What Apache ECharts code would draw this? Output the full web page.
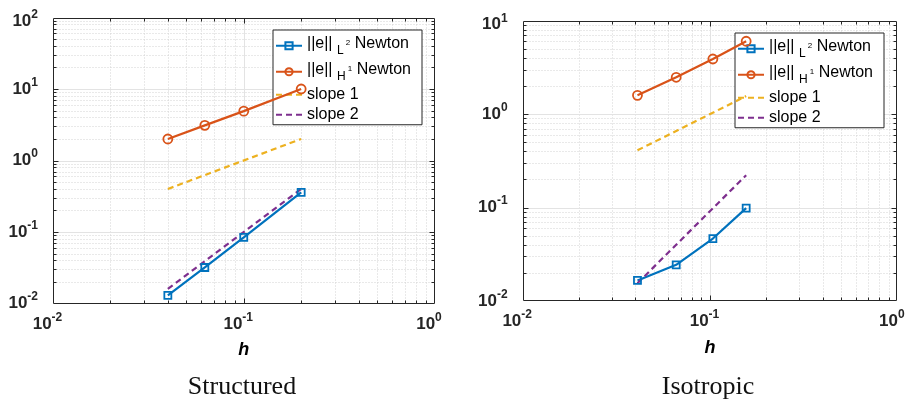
<!DOCTYPE html>
<html>
<head>
<meta charset="utf-8">
<script src="https://cdn.jsdelivr.net/npm/echarts@6/dist/echarts.min.js"></script>
<style>
  html, body { margin: 0; padding: 0; background: #fff; }
  #chart { width: 909px; height: 403px; }
</style>
</head>
<body>
<div id="chart"></div>
<script>
// Structured meshes: mesh size h and error norms
const hStructured = [0.04, 0.0625, 0.1, 0.2];
const l2Structured = [0.0130, 0.0319, 0.084, 0.359];
const h1Structured = [2.0, 3.1, 4.9, 10.0];
const slopeHStructured = [0.04, 0.2];
const slope1Structured = [0.4, 2.0];
const slope2Structured = [0.016, 0.4];

// Isotropic meshes
const hIsotropic = [0.041, 0.066, 0.1036, 0.156];
const l2Isotropic = [0.0166, 0.0244, 0.0466, 0.0986];
const h1Isotropic = [1.59, 2.48, 3.89, 6.03];
const slopeHIsotropic = [0.041, 0.156];
const slope1Isotropic = [0.41, 1.56];
const slope2Isotropic = [0.0155, 0.222];

// Decade tick values
const xTicks = [0.01, 0.1, 1];
const yTicksStructured = [0.01, 0.1, 1, 10, 100];
const yTicksIsotropic = [0.01, 0.1, 1, 10];

const panelTitles = ['Structured', 'Isotropic'];
const xName = 'h';
const seriesNames = ['L2', 'H1', 'slope 1', 'slope 2'];

const FONT = '"Liberation Sans", Arial, Helvetica, sans-serif';
const AXIS_COLOR = '#262626';
const COLORS = { l2: '#0072BD', h1: '#D95319', s1: '#EDB120', s2: '#7E2F8E' };
const LINE_W = 2.2;

const panels = [
  {
    grid: { left: 53, top: 17.5, width: 381.5, height: 286 },
    legendPos: { left: 273, top: 30 }, titleX: 242,
    yTicks: yTicksStructured,
    h: hStructured, l2: l2Structured, h1: h1Structured,
    sh: slopeHStructured, s1: slope1Structured, s2: slope2Structured,
    title: panelTitles[0]
  },
  {
    grid: { left: 522.7, top: 20.7, width: 374.6, height: 280.3 },
    legendPos: { left: 735, top: 33 }, titleX: 708,
    yTicks: yTicksIsotropic,
    h: hIsotropic, l2: l2Isotropic, h1: h1Isotropic,
    sh: slopeHIsotropic, s1: slope1Isotropic, s2: slope2Isotropic,
    title: panelTitles[1]
  }
];

function pairs(xs, ys) { return xs.map((x, i) => [x, ys[i]]); }

function isDecadeTick(ticks, v) {
  return ticks.some(t => Math.abs(Math.log10(t) - Math.log10(v)) < 1e-6);
}

// "10" with a raised exponent; the top label of a y axis sits a little lower
function powerLabel(ticks, lowerTop) {
  const top = ticks[ticks.length - 1];
  return function (v) {
    if (!isDecadeTick(ticks, v)) return '';
    const e = Math.round(Math.log10(v));
    if (lowerTop && Math.abs(Math.log10(v) - Math.log10(top)) < 1e-6) {
      return '{B|10}{E|' + e + '}';
    }
    return '{b|10}{e|' + e + '}';
  };
}

const baseLabel = { fontSize: 17, fontWeight: 'bold', fontFamily: FONT, color: AXIS_COLOR };
const xRich = {
  b: Object.assign({}, baseLabel),
  e: Object.assign({}, baseLabel, { fontSize: 12, padding: [0, 11, 13, 0] })
};
const yRich = {
  b: Object.assign({}, baseLabel),
  e: Object.assign({}, baseLabel, { fontSize: 12, padding: [0, 0, 13, 0] }),
  B: Object.assign({}, baseLabel, { padding: [8, 0, 0, 0] }),
  E: Object.assign({}, baseLabel, { fontSize: 12, padding: [8, 0, 13, 0] })
};

// Box, decade grid, dotted minor grid and inward ticks, placed through the axes
function frameSeries(idx, yTicks) {
  return {
    type: 'custom', xAxisIndex: idx, yAxisIndex: idx, z: 0, silent: true, clip: false,
    data: [[xTicks[0], yTicks[0]]],
    renderItem: function (params, api) {
      const lo = api.coord([xTicks[0], yTicks[0]]);
      const hi = api.coord([xTicks[xTicks.length - 1], yTicks[yTicks.length - 1]]);
      const L = Math.round(lo[0]) + 0.5, R = Math.round(hi[0]) - 0.5;
      const T = Math.round(hi[1]) + 0.5, B = Math.round(lo[1]) - 0.5;
      const minorGrid = [], majorGrid = [], ticks = [];
      const minorStyle = { stroke: '#d2d2d2', lineWidth: 1, lineDash: [1, 2] };
      const majorStyle = { stroke: '#e3e3e3', lineWidth: 1 };
      const tickStyle = { stroke: AXIS_COLOR, lineWidth: 1 };
      const seg = (x1, y1, x2, y2, style) => ({ type: 'line', shape: { x1, y1, x2, y2 }, style });

      function each(ticksArr, fn) {
        for (let i = 0; i < ticksArr.length; i++) {
          if (i > 0 && i < ticksArr.length - 1) fn(ticksArr[i], true);
          if (i < ticksArr.length - 1) {
            for (let k = 2; k <= 9; k++) fn(ticksArr[i] * k, false);
          }
        }
      }
      each(xTicks, function (v, major) {
        const px = Math.round(api.coord([v, yTicks[0]])[0]) + 0.5;
        (major ? majorGrid : minorGrid).push(seg(px, T, px, B, major ? majorStyle : minorStyle));
        const len = major ? 5 : 3;
        ticks.push(seg(px, B, px, B - len, tickStyle), seg(px, T, px, T + len, tickStyle));
      });
      each(yTicks, function (v, major) {
        const py = Math.round(api.coord([xTicks[0], v])[1]) + 0.5;
        (major ? majorGrid : minorGrid).push(seg(L, py, R, py, major ? majorStyle : minorStyle));
        const len = major ? 5 : 3;
        ticks.push(seg(L, py, L + len, py, tickStyle), seg(R, py, R - len, py, tickStyle));
      });
      const box = { type: 'rect', shape: { x: L, y: T, width: R - L, height: B - T },
        style: { fill: 'none', stroke: AXIS_COLOR, lineWidth: 1 } };
      return { type: 'group', children: minorGrid.concat(majorGrid, ticks, [box]) };
    }
  };
}

function curveSeries(idx, p) {
  const common = { type: 'line', xAxisIndex: idx, yAxisIndex: idx, z: 5, silent: true,
    emphasis: { disabled: true } };
  return [
    Object.assign({}, common, {
      name: seriesNames[0], data: pairs(p.h, p.l2), symbol: 'rect', symbolSize: 7,
      lineStyle: { color: COLORS.l2, width: LINE_W },
      itemStyle: { color: 'rgba(255,255,255,0)', borderColor: COLORS.l2, borderWidth: 1.8 }
    }),
    Object.assign({}, common, {
      name: seriesNames[1], data: pairs(p.h, p.h1), symbol: 'circle', symbolSize: 9,
      lineStyle: { color: COLORS.h1, width: LINE_W },
      itemStyle: { color: 'rgba(255,255,255,0)', borderColor: COLORS.h1, borderWidth: 1.8 }
    }),
    Object.assign({}, common, {
      name: seriesNames[2], data: pairs(p.sh, p.s1), symbol: 'none',
      lineStyle: { color: COLORS.s1, width: LINE_W, type: [6, 4] }, itemStyle: { color: COLORS.s1 }
    }),
    Object.assign({}, common, {
      name: seriesNames[3], data: pairs(p.sh, p.s2), symbol: 'none',
      lineStyle: { color: COLORS.s2, width: LINE_W, type: [6, 4] }, itemStyle: { color: COLORS.s2 }
    })
  ];
}

// Legend entries: ||e|| with subscripted norm space and superscripted order
const legendRich = (function () {
  const t = { fontFamily: FONT, color: '#000' };
  const row = (lh) => ({
    n: Object.assign({}, t, { fontSize: 16, lineHeight: lh, padding: [0, 0, 4, 0] }),
    s: Object.assign({}, t, { fontSize: 12, lineHeight: lh, padding: [10, 0, 0, 0] }),
    p: Object.assign({}, t, { fontSize: 8, lineHeight: lh, padding: [0, 0, 5, 0] })
  });
  const r1 = row(18.5), r2 = row(28);
  return {
    a: r1.n, b: r1.s, c: r1.p,
    A: r2.n, B: r2.s, C: r2.p,
    q: Object.assign({}, t, { fontSize: 16, lineHeight: 15.3 })
  };
})();

function legendText(name) {
  if (name === seriesNames[0]) return '{a|||e|| }{b|L}{c| 2}{a| Newton}';
  if (name === seriesNames[1]) return '{A|||e|| }{B|H}{C| 1}{A| Newton}';
  return '{q|' + name + '}';
}

// dashed reference lines show only their line in the legend
const legendData = seriesNames.map((n, i) =>
  i < 2 ? { name: n } : { name: n, itemStyle: { opacity: 0 } });

const option = {
  animation: false,
  backgroundColor: '#fff',
  grid: panels.map(p => Object.assign({ outerBoundsMode: 'none', containLabel: false }, p.grid)),
  xAxis: panels.map((p, i) => ({
    type: 'log', logBase: 10, gridIndex: i, min: xTicks[0], max: xTicks[xTicks.length - 1],
    axisLine: { show: false }, axisTick: { show: false }, splitLine: { show: false },
    minorTick: { show: false }, minorSplitLine: { show: false },
    axisLabel: { formatter: powerLabel(xTicks, false), rich: xRich, margin: 8,
      showMinLabel: true, showMaxLabel: true },
    name: xName, nameLocation: 'middle', nameGap: 47, nameMoveOverlap: false,
    nameTextStyle: { fontSize: 18, fontWeight: 'bold', fontStyle: 'italic', fontFamily: FONT,
      color: '#000', verticalAlign: 'middle' }
  })),
  yAxis: panels.map((p, i) => ({
    type: 'log', logBase: 10, gridIndex: i, min: p.yTicks[0], max: p.yTicks[p.yTicks.length - 1],
    axisLine: { show: false }, axisTick: { show: false }, splitLine: { show: false },
    minorTick: { show: false }, minorSplitLine: { show: false },
    axisLabel: { formatter: powerLabel(p.yTicks, true), rich: yRich, margin: 15,
      showMinLabel: true, showMaxLabel: true }
  })),
  legend: panels.map(p => ({
    left: p.legendPos.left, top: p.legendPos.top, orient: 'vertical', z: 3,
    data: legendData, selectedMode: false,
    itemWidth: 26, itemHeight: 9, itemGap: 4,
    padding: [4.75, 11, 2, 2],
    backgroundColor: '#fff', borderColor: AXIS_COLOR, borderWidth: 1, borderRadius: 0,
    lineStyle: { width: 2 },
    formatter: legendText,
    textStyle: { fontFamily: FONT, fontSize: 16, color: '#000', rich: legendRich }
  })),
  graphic: panels.map(p => ({
    type: 'text', x: p.titleX, y: 387, silent: true,
    style: { text: p.title, font: '26px "Liberation Serif", "Times New Roman", serif',
      fill: '#111', align: 'center', verticalAlign: 'middle' }
  })),
  series: panels.reduce((acc, p, i) =>
    acc.concat([frameSeries(i, p.yTicks)], curveSeries(i, p)), [])
};

const chart = echarts.init(document.getElementById('chart'), null, { renderer: 'canvas' });
chart.setOption(option);
</script>
</body>
</html>
